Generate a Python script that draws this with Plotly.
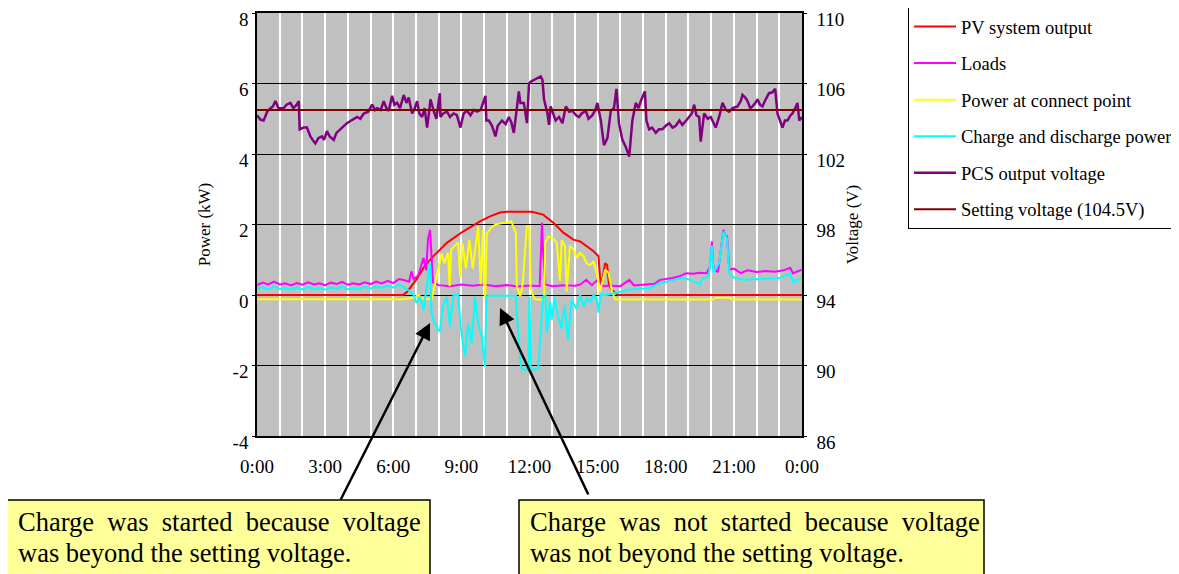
import plotly.graph_objects as go

# --- data (hours of day) ---
pv_t = [0, 6.43, 6.6, 6.87, 7.03, 7.33, 7.75, 8.36, 9.07, 9.82, 10.26, 10.7, 11.0, 11.5, 12.1, 12.6,
        13.05, 13.49, 13.93, 14.23, 14.52, 14.82, 15.04, 15.1, 15.17, 15.33, 15.42, 15.5, 15.6, 15.9, 24]
pv_kw = [0, 0, 0.08, 0.3, 0.45, 0.77, 1.09, 1.48, 1.8, 2.09, 2.23, 2.34, 2.36, 2.36, 2.36, 2.28,
         2.05, 1.77, 1.57, 1.52, 1.38, 1.24, 1.1, 0.53, 0.3, 0.9, 0.85, 0.3, 0.15, 0.0, 0]

load_t = [0, 0.25, 0.5, 0.75, 1.0, 1.25, 1.5, 1.75, 2.0, 2.25, 2.5, 2.75, 3.0, 3.25, 3.5, 3.75, 4.0,
          4.25, 4.5, 4.75, 5.0, 5.25, 5.5, 5.75, 6.0, 6.25, 6.5, 6.7, 6.8, 6.9, 7.1, 7.33, 7.45, 7.53,
          7.62, 7.68, 7.75, 8.0, 8.5, 9.0, 9.5, 10.0, 10.5, 11.0, 11.5, 12.0, 12.45, 12.55, 12.6, 12.7,
          13.0, 13.5, 14.0, 14.25, 14.5, 14.75, 15.0, 15.25, 15.5, 16.0, 16.4, 16.6, 17.0, 17.5, 17.75,
          18.0, 18.3, 18.6, 18.9, 19.2, 19.5, 19.8, 19.95, 20.03, 20.1, 20.3, 20.45, 20.54, 20.62, 20.7,
          20.8, 21.0, 21.3, 21.6, 22.0, 22.4, 22.8, 23.2, 23.48, 23.6, 24]
load_kw = [0.28, 0.35, 0.30, 0.38, 0.30, 0.33, 0.27, 0.34, 0.29, 0.36, 0.30, 0.33, 0.28, 0.35, 0.31,
           0.37, 0.29, 0.33, 0.30, 0.36, 0.31, 0.38, 0.33, 0.40, 0.34, 0.45, 0.42, 0.38, 0.67, 0.45,
           0.55, 1.05, 0.7, 1.57, 1.85, 1.0, 0.35, 0.28, 0.25, 0.3, 0.26, 0.3, 0.25, 0.28, 0.24, 0.27,
           0.25, 2.05, 1.2, 0.3, 0.25, 0.28, 0.26, 0.3, 0.43, 0.28, 0.43, 0.25, 0.27, 0.25, 0.43, 0.27,
           0.3, 0.32, 0.43, 0.45, 0.48, 0.53, 0.62, 0.6, 0.63, 0.62, 0.8, 1.52, 0.75, 0.65, 1.47, 1.85,
           1.7, 1.66, 0.72, 0.75, 0.62, 0.7, 0.65, 0.68, 0.66, 0.7, 0.77, 0.62, 0.72]

conn_t = [0, 6.4, 6.9, 7.1, 7.3, 7.5, 7.7, 7.97, 8.13, 8.25, 8.41, 8.48, 8.55, 8.85, 8.95, 9.05, 9.2,
          9.35, 9.5, 9.74, 9.85, 9.95, 10.0, 10.05, 10.12, 10.3, 10.5, 10.8, 11.0, 11.2, 11.3, 11.4,
          11.44, 11.6, 11.7, 11.88, 11.99, 12.05, 12.2, 12.3, 12.65, 12.69, 12.83, 13.05, 13.2, 13.34,
          13.42, 13.56, 13.64, 13.78, 13.93, 14.08, 14.23, 14.38, 14.52, 14.67, 14.82, 14.96, 15.11,
          15.33, 15.48, 15.63, 15.77, 20.1, 20.2, 20.8, 20.9, 24]
conn_kw = [-0.12, -0.12, -0.08, 0.0, -0.1, -0.12, -0.1, 0.7, 1.18, 0.9, 1.2, 0.25, 1.3, 1.48, 0.5,
           1.45, 0.75, 1.57, 0.75, 1.95, 0.3, 1.85, 0.3, -0.1, 1.75, 1.9, 2.0, 2.04, 2.05, 2.09, 1.9,
           1.75, 0.25, -0.04, 0.3, 1.95, 1.95, 0.2, -0.1, -0.13, -0.13, 1.48, 1.66, 1.6, 1.48, 0.4,
           1.55, 1.4, 0.1, 1.4, 1.3, 1.05, 1.2, 1.1, 0.9, 0.85, 0.95, 0.63, 0.1, 0.72, 0.63, 0.1,
           -0.13, -0.13, -0.08, -0.08, -0.13, -0.13]

chg_t = [0, 0.25, 0.5, 0.75, 1.0, 1.25, 1.5, 1.75, 2.0, 2.25, 2.5, 2.75, 3.0, 3.25, 3.5, 3.75, 4.0,
         4.25, 4.5, 4.75, 5.0, 5.25, 5.5, 5.75, 6.0, 6.25, 6.5, 6.75, 6.9, 7.03, 7.18, 7.33, 7.48,
         7.62, 7.68, 7.82, 7.97, 8.05, 8.2, 8.36, 8.5, 8.65, 8.85, 9.0, 9.16, 9.3, 9.45, 9.6, 9.74,
         9.9, 10.04, 10.1, 10.2, 11.4, 11.45, 11.55, 11.62, 11.7, 11.95, 12.0, 12.05, 12.38, 12.45,
         12.6, 12.7, 12.76, 12.9, 12.98, 13.1, 13.26, 13.4, 13.55, 13.7, 13.85, 14.08, 14.23, 14.38,
         14.52, 14.67, 14.82, 14.96, 15.04, 15.12, 15.4, 15.7, 16.0, 16.4, 16.9, 17.3, 17.75, 18.2,
         18.63, 19.0, 19.5, 19.6, 19.9, 20.03, 20.1, 20.35, 20.54, 20.7, 20.8, 21.0, 21.4, 22.0,
         22.5, 23.0, 23.48, 23.62, 24]
chg_kw = [0.18, 0.22, 0.16, 0.24, 0.17, 0.2, 0.15, 0.22, 0.16, 0.23, 0.17, 0.2, 0.15, 0.22, 0.18,
          0.24, 0.16, 0.2, 0.17, 0.23, 0.18, 0.25, 0.2, 0.27, 0.21, 0.3, 0.2, 0.1, 0.0, -0.23, -0.05,
          -0.42, 0.25, 0.95, -0.5, -0.79, -0.98, -1.03, -0.3, -0.05, -0.9, 0.0, 0.0, -1.07, -1.74,
          -0.8, -1.36, -0.05, -0.8, -1.2, -2.03, -0.05, -0.02, -0.02, -0.6, -1.4, -2.03, -2.12, -2.12,
          -0.05, -2.12, -2.1, -1.36, -0.05, -0.02, -1.07, -0.2, -0.7, -0.05, -0.6, -0.95, -0.3, -1.28,
          -0.15, -0.4, 0.0, -0.32, -0.1, -0.2, 0.0, -0.1, -0.5, 0.0, 0.0, 0.05, 0.1, 0.15, 0.18, 0.2,
          0.34, 0.4, 0.48, 0.45, 0.3, 0.45, 0.55, 1.4, 0.65, 0.9, 1.8, 1.6, 0.6, 0.5, 0.43, 0.45,
          0.45, 0.48, 0.6, 0.36, 0.5]

volt_t = [0, 0.15, 0.29, 0.45, 0.59, 0.7, 0.81, 0.95, 1.17, 1.3, 1.47, 1.6, 1.75, 1.84, 1.88, 2.05,
          2.2, 2.35, 2.45, 2.57, 2.7, 2.86, 2.95, 3.08, 3.2, 3.38, 3.5, 3.67, 3.8, 3.96, 4.15, 4.41,
          4.55, 4.7, 4.9, 5.07, 5.2, 5.29, 5.45, 5.58, 5.7, 5.8, 5.95, 6.05, 6.17, 6.3, 6.46, 6.58,
          6.68, 6.83, 6.95, 7.05, 7.15, 7.27, 7.38, 7.49, 7.58, 7.64, 7.78, 7.9, 8.05, 8.08, 8.2,
          8.37, 8.5, 8.66, 8.8, 8.96, 9.1, 9.25, 9.4, 9.55, 9.69, 9.85, 10.06, 10.1, 10.21, 10.35,
          10.5, 10.6, 10.79, 10.95, 11.09, 11.2, 11.31, 11.45, 11.53, 11.6, 11.75, 11.89, 11.98,
          12.05, 12.2, 12.35, 12.49, 12.57, 12.64, 12.79, 12.86, 12.93, 13.05, 13.15, 13.3, 13.45,
          13.6, 13.75, 13.89, 14.05, 14.18, 14.3, 14.48, 14.6, 14.77, 14.9, 14.99, 15.14, 15.28,
          15.43, 15.58, 15.72, 15.83, 15.94, 16.09, 16.24, 16.39, 16.53, 16.68, 16.8, 16.9, 17.08,
          17.15, 17.27, 17.4, 17.56, 17.7, 17.85, 18.0, 18.15, 18.3, 18.44, 18.6, 18.73, 18.9,
          19.03, 19.15, 19.25, 19.35, 19.47, 19.54, 19.69, 19.85, 19.98, 20.1, 20.2, 20.35, 20.5,
          20.65, 20.79, 20.95, 21.16, 21.3, 21.38, 21.5, 21.6, 21.72, 21.82, 21.95, 22.04, 22.15,
          22.26, 22.4, 22.55, 22.7, 22.82, 22.92, 23.05, 23.14, 23.25, 23.36, 23.5, 23.58, 23.7,
          23.8, 23.88, 24.0]
volt_v = [104.2, 103.95, 103.9, 104.4, 104.6, 104.7, 105.0, 104.6, 104.6, 104.8, 104.9, 104.6,
          104.8, 105.0, 103.4, 103.5, 103.5, 103.0, 102.8, 102.6, 102.9, 103.0, 102.8, 103.3, 103.0,
          102.8, 103.2, 103.4, 103.6, 103.75, 103.9, 104.1, 104.0, 104.3, 104.4, 104.8, 104.5,
          104.6, 104.5, 105.0, 104.6, 104.45, 105.3, 104.8, 104.9, 104.6, 105.35, 104.9, 105.2,
          104.3, 104.6, 105.0, 104.3, 104.1, 104.6, 103.5, 104.4, 105.1, 104.45, 104.0, 105.45,
          104.1, 104.3, 104.4, 104.1, 104.3, 104.2, 103.5, 104.3, 104.45, 104.2, 104.5, 104.4,
          104.5, 105.3, 103.9, 103.9, 103.6, 103.0, 103.6, 103.9, 103.7, 104.1, 103.8, 103.2, 104.5,
          105.55, 104.9, 104.9, 103.75, 106.0, 106.1, 106.2, 106.3, 106.4, 106.2, 105.1, 104.3,
          103.65, 104.7, 104.2, 103.9, 104.1, 103.75, 104.7, 104.4, 104.45, 104.2, 104.1, 104.3,
          104.45, 104.0, 104.2, 104.5, 104.9, 103.9, 102.5, 102.9, 104.45, 104.6, 105.7, 103.75,
          102.8, 102.4, 101.85, 103.9, 104.9, 104.6, 105.0, 105.55, 103.9, 103.4, 103.5, 103.2,
          103.4, 103.4, 103.6, 103.75, 103.5, 103.6, 103.9, 103.65, 103.9, 104.1, 104.3, 104.8,
          104.2, 104.1, 102.7, 104.3, 104.0, 104.1, 103.8, 103.5, 104.1, 104.9, 104.5, 104.4, 104.6,
          104.7, 105.0, 105.35, 105.2, 105.0, 104.6, 104.7, 104.9, 105.1, 104.8, 104.7, 105.1,
          105.45, 105.5, 105.7, 104.3, 103.8, 103.5, 103.9, 103.9, 104.2, 104.3, 104.6, 104.9,
          103.9, 104.1]

set_t = [0, 24]
set_v = [104.5, 104.5]

hour_ticks = [0, 3, 6, 9, 12, 15, 18, 21, 24]
hour_labels = ["0:00", "3:00", "6:00", "9:00", "12:00", "15:00", "18:00", "21:00", "0:00"]
kw_ticks = [-4, -2, 0, 2, 4, 6, 8]
kw_labels = ["-4", "-2", "0", "2", "4", "6", "8"]

FONT = "Liberation Serif, Times New Roman, serif"
OFF = 8  # the page body adds an 8px margin, so lay out in page pixels minus this
W, H = 1179 - OFF, 574 - OFF
L, R, T, B = 257, 802, 13, 436  # plot area in page pixels


def px(x):
    return (x - L) / (R - L)


def py(y):
    return (B - y) / (B - T)


fig = go.Figure()
fig.add_trace(go.Scatter(x=pv_t, y=pv_kw, name="PV system output", legendgroup="a", mode="lines",
                         line=dict(color="#FF0000", width=2)))
fig.add_trace(go.Scatter(x=load_t, y=load_kw, name="Loads", legendgroup="b", mode="lines",
                         line=dict(color="#FF00FF", width=2)))
fig.add_trace(go.Scatter(x=conn_t, y=conn_kw, name="Power at connect point", legendgroup="c",
                         mode="lines", line=dict(color="#FFFF00", width=2)))
fig.add_trace(go.Scatter(x=chg_t, y=chg_kw, name="Charge and discharge power", legendgroup="d",
                         mode="lines", line=dict(color="#00FFFF", width=2)))
fig.add_trace(go.Scatter(x=volt_t, y=volt_v, name="PCS output voltage", legendgroup="e",
                         mode="lines", yaxis="y2", line=dict(color="#800080", width=2.5)))
fig.add_trace(go.Scatter(x=set_t, y=set_v, name="Setting voltage (104.5V)", legendgroup="f",
                         mode="lines", yaxis="y2", line=dict(color="#800000", width=2)))

# annotation boxes below the chart
for x0, x1 in [(5, 430), (519, 984)]:
    fig.add_shape(type="rect", xref="paper", yref="paper",
                  x0=px(x0), x1=px(x1), y0=py(500), y1=py(600),
                  fillcolor="#FFFF99", line=dict(color="black", width=1.5), layer="above")

SP = "\u00a0\u00a0"
notes = [
    (16, 522, SP.join(["Charge", "was", "started", "because", "voltage"])),
    (16, 553, "was beyond the setting voltage."),
    (528, 522, SP.join(["Charge", "was", "not", "started", "because", "voltage"])),
    (528, 553, "was not beyond the setting voltage."),
]
for x, y, txt in notes:
    fig.add_annotation(xref="paper", yref="paper", x=px(x), y=py(y), text=txt,
                       showarrow=False, xanchor="left", yanchor="middle",
                       font=dict(family=FONT, size=26.5, color="black"))

# arrows: tip inside the plot, tail at the boxes
for (tx, ty), (sx, sy) in [((430, 323), (340, 501)), ((500, 308), (589, 496))]:
    fig.add_annotation(xref="paper", yref="paper", x=px(tx), y=py(ty), text="",
                       showarrow=True, axref="pixel", ayref="pixel", ax=sx - tx, ay=sy - ty,
                       arrowhead=2, arrowsize=1.3, arrowwidth=2.5, arrowcolor="black")

fig.update_layout(
    width=W, height=H,
    margin=dict(l=L - OFF, r=W - (R - OFF), t=T - OFF, b=H - (B - OFF), autoexpand=False),
    paper_bgcolor="white", plot_bgcolor="#C0C0C0",
    font=dict(family=FONT, size=19, color="black"),
    showlegend=True,
    legend=dict(x=px(908), y=py(7), xanchor="left", yanchor="top",
                bgcolor="white", bordercolor="black", borderwidth=1, itemwidth=42,
                font=dict(family=FONT, size=18.5), traceorder="grouped", tracegroupgap=9.5),
    xaxis=dict(range=[0, 24], tickmode="array", tickvals=hour_ticks, ticktext=hour_labels,
               showgrid=True, gridcolor="white", gridwidth=1.5,
               minor=dict(tickmode="linear", tick0=0, dtick=1, showgrid=True,
                          gridcolor="white", gridwidth=1.5),
               showline=True, linecolor="black", linewidth=1.5, mirror=True,
               zeroline=False, ticks="", ticklabelstandoff=12, automargin=False),
    yaxis=dict(range=[-4, 8], tickmode="array", tickvals=kw_ticks, ticktext=kw_labels,
               showgrid=True, gridcolor="black", gridwidth=1,
               zeroline=False, showline=True, linecolor="black", linewidth=1.5, mirror=True,
               ticks="outside", ticklen=3, tickcolor="black", automargin=False,
               ticklabelshift=6, ticklabeloverflow="allow",
               title=dict(text="Power (kW)", standoff=18, font=dict(size=17))),
    yaxis2=dict(range=[86, 110], tick0=86, dtick=4, overlaying="y", side="right", showgrid=False,
                zeroline=False, showline=True, linecolor="black", linewidth=1.5,
                ticks="outside", ticklen=3, tickcolor="black", ticklabelstandoff=6,
                ticklabelshift=6, ticklabeloverflow="allow", automargin=False,
                title=dict(text="Voltage (V)", standoff=2, font=dict(size=17))),
)

fig.write_html("out.html")
